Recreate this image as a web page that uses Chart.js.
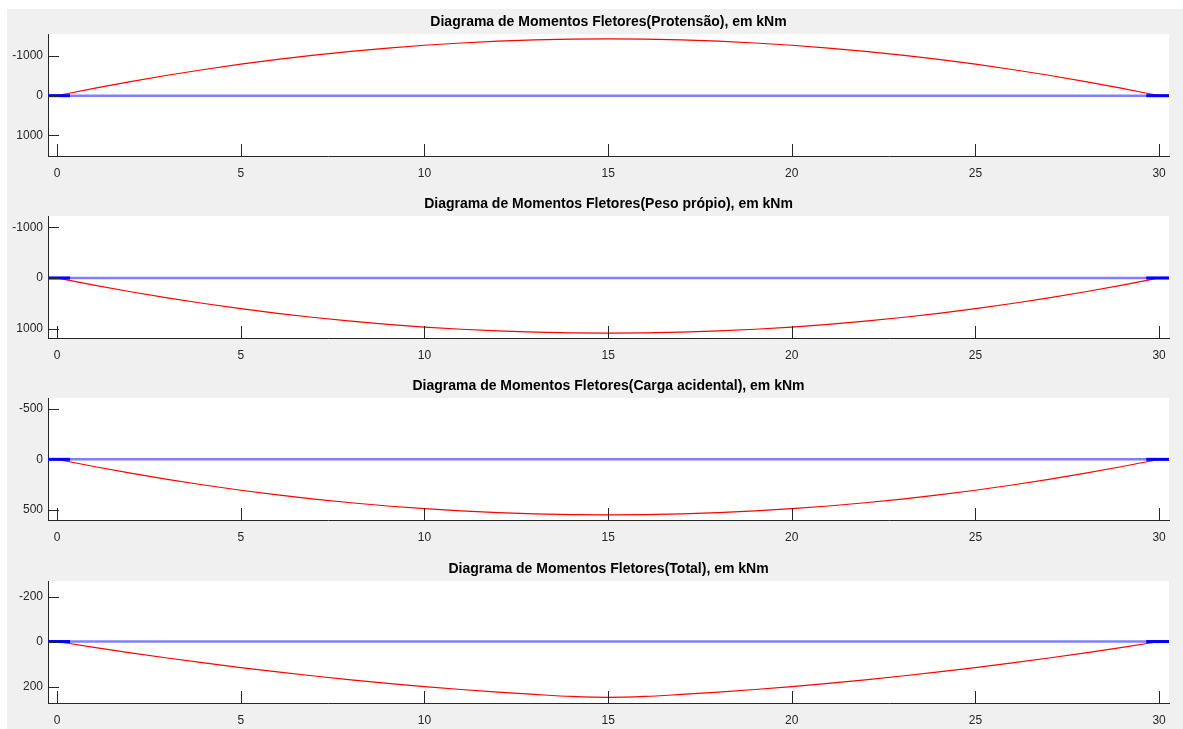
<!DOCTYPE html>
<html lang="pt">
<head>
  <meta charset="UTF-8" />
  <title>Diagramas de Momentos Fletores</title>
  <script src="https://cdn.jsdelivr.net/npm/chart.js"></script>
  <style>
    body {
      margin: 0;
      background: #ffffff;
      width: 1183px;
      height: 729px;
      overflow: hidden;
      position: relative;
    }

    #figure {
      position: absolute;
      left: 7px;
      top: 9px;
      right: 0;
      bottom: 0;
      background: #f0f0f0;
    }

    canvas {
      position: absolute;
      left: 0;
    }
  </style>
</head>
<body>

<div id="figure"></div>
<canvas id="chartProtensao" width="1183" height="174" style="top:8px"></canvas>
<canvas id="chartPeso" width="1183" height="174" style="top:190px"></canvas>
<canvas id="chartCarga" width="1183" height="174" style="top:372px"></canvas>
<canvas id="chartTotal" width="1183" height="174" style="top:555px"></canvas>

<script>
  // posições ao longo da viga (m)
  const positions = [0, 1, 2, 3, 4, 5, 6, 7, 8, 9, 10, 11, 12, 13, 14, 15,
                     16, 17, 18, 19, 20, 21, 22, 23, 24, 25, 26, 27, 28, 29, 30];

  // momentos (kNm)
  const momentProtensao = [0, -184, -356, -515, -661, -794, -915, -1023, -1119, -1201, -1271, -1328, -1373, -1405, -1424, -1430,
                           -1424, -1405, -1373, -1328, -1271, -1201, -1119, -1023, -915, -794, -661, -515, -356, -184, 0];
  const momentPeso = [0, 140, 271, 392, 503, 604, 696, 779, 851, 914, 967, 1011, 1044, 1069, 1083, 1088,
                      1083, 1069, 1044, 1011, 967, 914, 851, 779, 696, 604, 503, 392, 271, 140, 0];
  const momentCarga = [0, 71, 137, 198, 254, 306, 352, 394, 430, 462, 489, 511, 528, 540, 548, 550,
                       548, 540, 528, 511, 489, 462, 430, 394, 352, 306, 254, 198, 137, 71, 0];
  const momentTotal = [0, 26, 50, 73, 95, 116, 135, 153, 170, 186, 200, 213, 225, 235, 244, 248,
                       244, 235, 225, 213, 200, 186, 170, 153, 135, 116, 95, 73, 50, 26, 0];

  // viga e apoios
  const beamX = [-1, 31];
  const supportLeftX = [-0.3, 0.35];
  const supportRightX = [29.65, 30.3];

  // eixos
  const xLimits = [-0.25, 30.27];
  const xTicks = [0, 5, 10, 15, 20, 25, 30];
  const yLimProtensao = [-1555, 1520];
  const yLimPeso = [-1222, 1183];
  const yLimCarga = [-608, 601];
  const yLimTotal = [-269, 273];
  const yTicksProtensao = [-1000, 0, 1000];
  const yTicksPeso = [-1000, 0, 1000];
  const yTicksCarga = [-500, 0, 500];
  const yTicksTotal = [-200, 0, 200];

  const titles = [
    "Diagrama de Momentos Fletores(Protensão), em kNm",
    "Diagrama de Momentos Fletores(Peso própio), em kNm",
    "Diagrama de Momentos Fletores(Carga acidental), em kNm",
    "Diagrama de Momentos Fletores(Total), em kNm"
  ];

  const axisColor = "#262626";
  const fontFamily = "'Liberation Sans', Arial, sans-serif";
  const tickFont = { family: fontFamily, size: 12 };

  // fundo branco, marcas internas e título no estilo MATLAB
  const matlabAxes = {
    id: "matlabAxes",
    beforeDraw(chart) {
      const a = chart.chartArea;
      const ctx = chart.ctx;
      ctx.save();
      ctx.fillStyle = "#ffffff";
      ctx.fillRect(a.left, a.top, a.right - a.left, a.bottom - a.top);
      ctx.restore();
    },
    afterDraw(chart, args, opts) {
      const a = chart.chartArea;
      const ctx = chart.ctx;
      const xs = chart.scales.x;
      const ys = chart.scales.y;
      ctx.save();
      ctx.strokeStyle = axisColor;
      ctx.lineWidth = 1;
      ctx.beginPath();
      xs.ticks.forEach(t => {
        const px = Math.round(xs.getPixelForValue(t.value)) + 0.5;
        ctx.moveTo(px, a.bottom);
        ctx.lineTo(px, a.bottom - 12);
      });
      ys.ticks.forEach(t => {
        const py = Math.round(ys.getPixelForValue(t.value)) + 0.5;
        ctx.moveTo(a.left, py);
        ctx.lineTo(a.left + 11, py);
      });
      ctx.stroke();

      ctx.fillStyle = "#000000";
      ctx.font = "bold 14px " + fontFamily;
      ctx.textAlign = "center";
      ctx.textBaseline = "middle";
      ctx.fillText(opts.text, (a.left + a.right) / 2, a.top - 12);
      ctx.restore();
    }
  };

  function toPoints(xs, ys) {
    return xs.map((x, i) => ({ x: x, y: ys[i] }));
  }

  function flatLine(xs) {
    return xs.map(x => ({ x: x, y: 0 }));
  }

  function makeChart(canvasId, title, moments, yLim, yTicks) {
    new Chart(document.getElementById(canvasId).getContext("2d"), {
      type: "line",
      data: {
        datasets: [
          {
            data: flatLine(supportLeftX),
            borderColor: "#0000ff",
            borderWidth: 3,
            pointRadius: 0,
            order: 1
          },
          {
            data: flatLine(supportRightX),
            borderColor: "#0000ff",
            borderWidth: 3,
            pointRadius: 0,
            order: 1
          },
          {
            data: toPoints(positions, moments),
            borderColor: "#ff0000",
            borderWidth: 1.2,
            pointRadius: 0,
            cubicInterpolationMode: "monotone",
            order: 2
          },
          {
            data: flatLine(beamX),
            borderColor: "#8080ff",
            borderWidth: 2.5,
            pointRadius: 0,
            order: 3
          }
        ]
      },
      options: {
        responsive: false,
        animation: false,
        devicePixelRatio: 1,
        layout: { padding: { top: 26, right: 14, left: 0, bottom: 0 } },
        plugins: {
          legend: { display: false },
          tooltip: { enabled: false },
          matlabAxes: { text: title }
        },
        scales: {
          x: {
            type: "linear",
            min: xLimits[0],
            max: xLimits[1],
            afterBuildTicks: s => { s.ticks = xTicks.map(v => ({ value: v })); },
            afterFit: s => { s.height = 26; },
            grid: { display: false, drawTicks: false },
            border: { display: true, color: axisColor, width: 1 },
            ticks: {
              color: axisColor,
              font: tickFont,
              padding: 10,
              maxRotation: 0,
              callback: v => String(v)
            }
          },
          y: {
            type: "linear",
            reverse: true,
            min: yLim[0],
            max: yLim[1],
            afterBuildTicks: s => { s.ticks = yTicks.map(v => ({ value: v })); },
            afterFit: s => { s.width = 48; },
            grid: { display: false, drawTicks: false },
            border: { display: true, color: axisColor, width: 1 },
            ticks: {
              color: axisColor,
              font: tickFont,
              padding: 5,
              callback: v => String(v)
            }
          }
        }
      },
      plugins: [matlabAxes]
    });
  }

  makeChart("chartProtensao", titles[0], momentProtensao, yLimProtensao, yTicksProtensao);
  makeChart("chartPeso", titles[1], momentPeso, yLimPeso, yTicksPeso);
  makeChart("chartCarga", titles[2], momentCarga, yLimCarga, yTicksCarga);
  makeChart("chartTotal", titles[3], momentTotal, yLimTotal, yTicksTotal);
</script>

</body>
</html>
